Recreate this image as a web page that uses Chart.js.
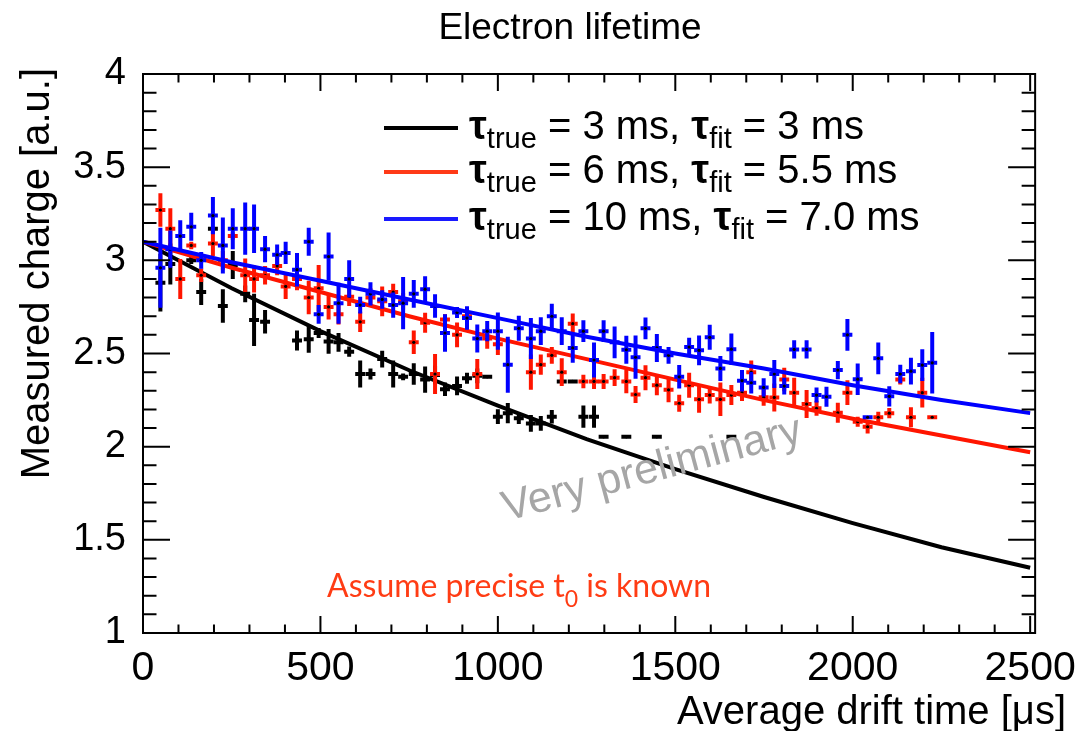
<!DOCTYPE html>
<html>
<head>
<meta charset="utf-8">
<title>Electron lifetime</title>
<script src="https://cdn.jsdelivr.net/npm/chart.js@4.4.1/dist/chart.umd.min.js"></script>
<style>
  html, body { margin: 0; padding: 0; background: #fff; }
  #wrap { width: 1079px; height: 731px; position: relative; }
</style>
</head>
<body>
<div id="wrap"><canvas id="lifetimeChart"></canvas></div>
<script>
// bin centres, average drift time [us]
const driftTime = [
  49, 77, 105, 136, 164, 197, 225, 253, 288, 313,
  344, 378, 402, 434, 467, 495, 523, 551, 581, 612,
  641, 674, 705, 733, 763, 795, 823, 851, 885, 913,
  942, 970, 1000, 1028, 1059, 1093, 1121, 1152, 1180, 1211,
  1241, 1271, 1298, 1329, 1362, 1388, 1416, 1448, 1481, 1511,
  1539, 1567, 1597, 1627, 1658, 1688, 1714, 1749, 1779, 1807,
  1835, 1870, 1898, 1926, 1958, 1985, 2014, 2042, 2072, 2103,
  2134, 2164, 2196, 2224
];
const binHalfWidth = 14;

// tau_true = 10 ms sample
const chargeBlue = [
  2.96, 3.06, 3.13, 3.18, 3.00, 3.24, 3.08, 3.17, 3.17, 3.17,
  3.06, 3.03, 3.04, 2.95, 3.10, 2.71, 3.02, 2.77, 2.90, 2.76,
  2.82, 2.79, 2.76, 2.77, 2.82, 2.845, 2.755, 2.61, 2.72, 2.69,
  2.58, 2.62, 2.62, 2.44, 2.635, 2.58, 2.62, 2.70, 2.62, 2.53,
  2.62, 2.465, 2.62, 2.56, 2.52, 2.48, 2.635, 2.53, 2.49, 2.375,
  2.535, 2.517, 2.587, 2.42, 2.523, 2.354, 2.343, 2.318, 2.39, 2.325,
  2.522, 2.522, 2.277, 2.268, 2.411, 2.60, 2.362, 2.158, 2.474, 2.27,
  2.39, 2.405, 2.438, 2.45
];
const errBlue = [
  0.215, 0.10, 0.085, 0.075, 0.045, 0.10, 0.15, 0.11, 0.14, 0.13,
  0.07, 0.055, 0.06, 0.09, 0.075, 0.05, 0.13, 0.11, 0.10, 0.045,
  0.063, 0.05, 0.068, 0.14, 0.075, 0.07, 0.063, 0.10, 0.03, 0.063,
  0.075, 0.054, 0.10, 0.15, 0.067, 0.11, 0.075, 0.067, 0.075, 0.08,
  0.058, 0.094, 0.058, 0.085, 0.075, 0.116, 0.058, 0.075, 0.045, 0.063,
  0.049, 0.08, 0.067, 0.067, 0.085, 0.058, 0.058, 0.049, 0.075, 0.045,
  0.049, 0.049, 0.04, 0.054, 0.049, 0.085, 0.085, 0.01, 0.085, 0.054,
  0.049, 0.072, 0.085, 0.165
];

// tau_true = 6 ms sample
const chargeRed = [
  3.27, 3.17, 2.90, 3.08, 2.92, 3.09, 3.00, 3.13, 2.92, 2.90,
  2.92, 2.97, 2.86, 2.90, 2.80, 2.85, 2.75, 2.71, 2.805, 2.67,
  2.80, 2.78, 2.83, 2.78, 2.56, 2.665, 2.39, 2.683, 2.60, 2.70,
  2.39, 2.58, 2.55, null, null, 2.40, 2.44, 2.49, 2.40, 2.66,
  2.35, 2.35, 2.35, 2.37, 2.35, 2.28, 2.37, 2.33, 2.305, 2.233,
  2.33, 2.254, 2.277, 2.254, 2.277, 2.29, 2.40, 2.265, 2.264, 2.36,
  2.29, 2.229, 2.206, null, 2.182, 2.29, 2.134, 2.107, 2.158, 2.18,
  2.36, 2.158, 2.29, 2.158
];
const errRed = [
  0.09, 0.11, 0.107, 0.02, 0.036, 0.067, 0.05, 0.02, 0.09, 0.072,
  0.05, 0.05, 0.067, 0.06, 0.09, 0.125, 0.067, 0.054, 0.05, 0.054,
  0.05, 0.08, 0.045, 0.045, 0.063, 0.054, 0.107, 0.027, 0.067, 0.045,
  0.08, 0.054, 0.058, null, null, 0.094, 0.054, 0.045, 0.075, 0.054,
  0.036, 0.04, 0.04, 0.045, 0.063, 0.045, 0.067, 0.054, 0.067, 0.045,
  0.067, 0.072, 0.045, 0.09, 0.054, 0.045, 0.063, 0.045, 0.075, 0.063,
  0.08, 0.075, 0.04, null, 0.054, 0.067, 0.027, 0.036, 0.03, 0.027,
  0.027, 0.054, 0.08, 0.005
];

// tau_true = 3 ms sample
const chargeBlack = [
  2.88, 2.98, null, 3.00, 2.83, 3.17, 2.755, 2.975, 2.82, 2.68,
  2.67, null, null, 2.57, 2.576, 2.61, 2.565, 2.56, 2.51, 2.39,
  2.39, 2.47, 2.39, 2.375, 2.39, 2.36, 2.385, 2.308, 2.326, 2.367,
  2.38, 2.375, 2.161, 2.18, 2.152, 2.125, 2.125, 2.161, 2.35, 2.35,
  2.161, 2.161, 2.053, null, 2.053, null, null, 2.053, null, null,
  null, null, null, null, 2.053, null, null, null, null, null,
  null, null, null, null, null, null, null, null, null, null,
  null, null, null, null
];
const errBlack = [
  0.155, 0.11, null, 0.02, 0.07, 0.01, 0.09, 0.075, 0.045, 0.14,
  0.063, null, null, 0.054, 0.072, 0.027, 0.067, 0.05, 0.027, 0.072,
  0.03, 0.045, 0.072, 0.018, 0.058, 0.07, 0.05, 0.036, 0.05, 0.03,
  0.04, 0, 0.04, 0.054, 0.03, 0.045, 0.04, 0.036, 0, 0,
  0.06, 0.06, 0, null, 0, null, null, 0, null, null,
  null, null, null, null, 0, null, null, null, null, null,
  null, null, null, null, null, null, null, null, null, null,
  null, null, null, null
];

// exponential fits, read every 250 us
const fitTime = [0, 250, 500, 750, 1000, 1250, 1500, 1750, 2000, 2250, 2500];
const fitBlack = [3.10, 2.85, 2.62, 2.41, 2.22, 2.04, 1.88, 1.73, 1.59, 1.46, 1.35];
const fitRed = [3.10, 2.96, 2.83, 2.70, 2.58, 2.47, 2.36, 2.25, 2.15, 2.06, 1.97];
const fitBlue = [3.10, 2.99, 2.89, 2.79, 2.69, 2.59, 2.50, 2.42, 2.33, 2.25, 2.18];

// axis tick labels
const timeTicks = [0, 500, 1000, 1500, 2000, 2500];
const chargeTicks = [1, 1.5, 2, 2.5, 3, 3.5, 4];

// legend entries (black, red, blue)
const legendTrue = ['3 ms', '6 ms', '10 ms'];
const legendFit = ['3 ms', '5.5 ms', '7.0 ms'];

const colors = {
    black: '#000000',
    red: '#ff1500',
    blue: '#0000ff',
    legendRed: '#ff3a17',
    legendBlue: '#1a1aff',
    note: '#ff3c14',
    watermark: '#a6a6a6'
};
const FONT = '"Liberation Sans", Arial, sans-serif';

function points(charge, err) {
    return driftTime
        .map((t, i) => ({ x: t, y: charge[i], e: err[i] }))
        .filter(p => p.y !== null);
}

function fitLine(values) {
    return fitTime.map((t, i) => ({ x: t, y: values[i] }));
}

// cross-shaped error bars, drawn just before each sample's dots
const errorBars = {
    id: 'errorBars',
    beforeDatasetDraw(chart, args) {
        const ds = chart.data.datasets[args.index];
        if (!ds.withErrors) return;
        const { ctx, chartArea: a, scales: { x, y } } = chart;
        ctx.save();
        ctx.beginPath();
        ctx.rect(a.left, a.top, a.right - a.left, a.bottom - a.top);
        ctx.clip();
        ctx.strokeStyle = ds.barColor;
        ctx.lineWidth = 4;
        ctx.lineCap = 'butt';
        ds.data.forEach(p => {
            const px = x.getPixelForValue(p.x);
            const py = y.getPixelForValue(p.y);
            ctx.beginPath();
            ctx.moveTo(x.getPixelForValue(p.x - binHalfWidth), py);
            ctx.lineTo(x.getPixelForValue(p.x + binHalfWidth), py);
            if (p.e > 0) {
                ctx.moveTo(px, y.getPixelForValue(p.y - p.e));
                ctx.lineTo(px, y.getPixelForValue(p.y + p.e));
            }
            ctx.stroke();
        });
        ctx.restore();
    }
};

function drawRich(ctx, x, y, parts, size) {
    parts.forEach(part => {
        const s = part.sub ? Math.round(size * 0.72) : size;
        ctx.font = (part.bold ? 'bold ' : '') + s + 'px ' + (part.family || FONT);
        const dy = part.sub ? size * 0.3 : 0;
        ctx.fillText(part.t, x, y + dy);
        x += ctx.measureText(part.t).width;
    });
    return x;
}

// frame with inward ticks on all four sides, titles, legend and notes
const decorations = {
    id: 'decorations',
    afterDraw(chart) {
        const { ctx, chartArea: a, scales: { x, y } } = chart;
        ctx.save();
        ctx.strokeStyle = '#000';
        ctx.lineWidth = 2;
        ctx.strokeRect(a.left, a.top, a.right - a.left, a.bottom - a.top);

        ctx.beginPath();
        for (let t = 0; t <= 2500; t += 100) {
            const px = x.getPixelForValue(t);
            const len = t % 500 === 0 ? 17 : 8.5;
            ctx.moveTo(px, a.bottom); ctx.lineTo(px, a.bottom - len);
            ctx.moveTo(px, a.top); ctx.lineTo(px, a.top + len);
        }
        for (let k = 10; k <= 40; k++) {
            const py = y.getPixelForValue(k / 10);
            const len = k % 5 === 0 ? 27 : 13.5;
            ctx.moveTo(a.left, py); ctx.lineTo(a.left + len, py);
            ctx.moveTo(a.right, py); ctx.lineTo(a.right - len, py);
        }
        ctx.stroke();

        // title
        ctx.fillStyle = '#000';
        ctx.font = '37px ' + FONT;
        ctx.textAlign = 'center';
        ctx.textBaseline = 'middle';
        ctx.fillText('Electron lifetime', 570, 29);

        // axis titles
        ctx.font = '40px ' + FONT;
        ctx.textAlign = 'right';
        ctx.textBaseline = 'alphabetic';
        ctx.fillText('Average drift time [\u03bcs]', 1066, 724);
        ctx.save();
        ctx.translate(49, 68);
        ctx.rotate(-Math.PI / 2);
        ctx.fillText('Measured charge [a.u.]', 0, 0);
        ctx.restore();

        // legend
        const legendColors = [colors.black, colors.legendRed, colors.legendBlue];
        const rowY = [128, 172, 219];
        ctx.textAlign = 'left';
        ctx.textBaseline = 'middle';
        legendTrue.forEach((val, i) => {
            ctx.strokeStyle = legendColors[i];
            ctx.lineWidth = 4;
            ctx.beginPath();
            ctx.moveTo(384, rowY[i]);
            ctx.lineTo(458, rowY[i]);
            ctx.stroke();
            ctx.fillStyle = '#000';
            drawRich(ctx, 469, rowY[i], [
                { t: '\u03c4', bold: true },
                { t: 'true', sub: true },
                { t: ' = ' + val + ', ' },
                { t: '\u03c4', bold: true },
                { t: 'fit', sub: true },
                { t: ' = ' + legendFit[i] }
            ], 40);
        });

        // note under the curves
        ctx.fillStyle = colors.note;
        ctx.textBaseline = 'alphabetic';
        drawRich(ctx, 327, 597, [
            { t: 'Assume precise t', family: 'Lato, sans-serif' },
            { t: '0', sub: true, family: 'Lato, sans-serif' },
            { t: ' is known', family: 'Lato, sans-serif' }
        ], 32);

        // watermark
        ctx.save();
        ctx.translate(652, 470);
        ctx.rotate(-15 * Math.PI / 180);
        ctx.fillStyle = colors.watermark;
        ctx.font = '43px ' + FONT;
        ctx.textAlign = 'center';
        ctx.textBaseline = 'middle';
        ctx.fillText('Very preliminary', 0, 0);
        ctx.restore();

        ctx.restore();
    }
};

const dotStyle = {
    pointRadius: 1.6,
    pointHoverRadius: 1.6,
    pointBackgroundColor: '#000',
    pointBorderWidth: 0,
    showLine: false,
    withErrors: true
};
const lineStyle = {
    showLine: true,
    pointRadius: 0,
    borderWidth: 4,
    tension: 0,
    withErrors: false
};

new Chart(document.getElementById('lifetimeChart'), {
    type: 'scatter',
    data: {
        datasets: [
            { label: 'fit 10 ms', data: fitLine(fitBlue), borderColor: colors.blue, order: 0, ...lineStyle },
            { label: '10 ms', data: points(chargeBlue, errBlue), barColor: colors.blue, order: 1, ...dotStyle },
            { label: 'fit 6 ms', data: fitLine(fitRed), borderColor: colors.red, order: 2, ...lineStyle },
            { label: '6 ms', data: points(chargeRed, errRed), barColor: colors.red, order: 3, ...dotStyle },
            { label: 'fit 3 ms', data: fitLine(fitBlack), borderColor: colors.black, order: 4, ...lineStyle },
            { label: '3 ms', data: points(chargeBlack, errBlack), barColor: colors.black, order: 5, ...dotStyle }
        ]
    },
    options: {
        responsive: true,
        maintainAspectRatio: false,
        animation: false,
        layout: { padding: { left: 0, top: 74, right: 42, bottom: 0 } },
        plugins: {
            legend: { display: false },
            tooltip: { enabled: false }
        },
        scales: {
            x: {
                type: 'linear',
                min: 0,
                max: 2514,
                grid: { display: false },
                border: { display: false },
                afterBuildTicks: scale => { scale.ticks = timeTicks.map(v => ({ value: v })); },
                afterFit: scale => { scale.height = 98; },
                ticks: {
                    autoSkip: false,
                    maxRotation: 0,
                    padding: 3,
                    color: '#000',
                    font: { family: FONT, size: 41 },
                    callback: v => String(v)
                }
            },
            y: {
                type: 'linear',
                min: 1,
                max: 4,
                grid: { display: false },
                border: { display: false },
                afterBuildTicks: scale => { scale.ticks = chargeTicks.map(v => ({ value: v })); },
                afterFit: scale => { scale.width = 143; },
                ticks: {
                    autoSkip: false,
                    padding: 9,
                    color: '#000',
                    font: { family: FONT, size: 38 },
                    callback: v => String(v)
                }
            }
        }
    },
    plugins: [errorBars, decorations]
});
</script>
</body>
</html>
